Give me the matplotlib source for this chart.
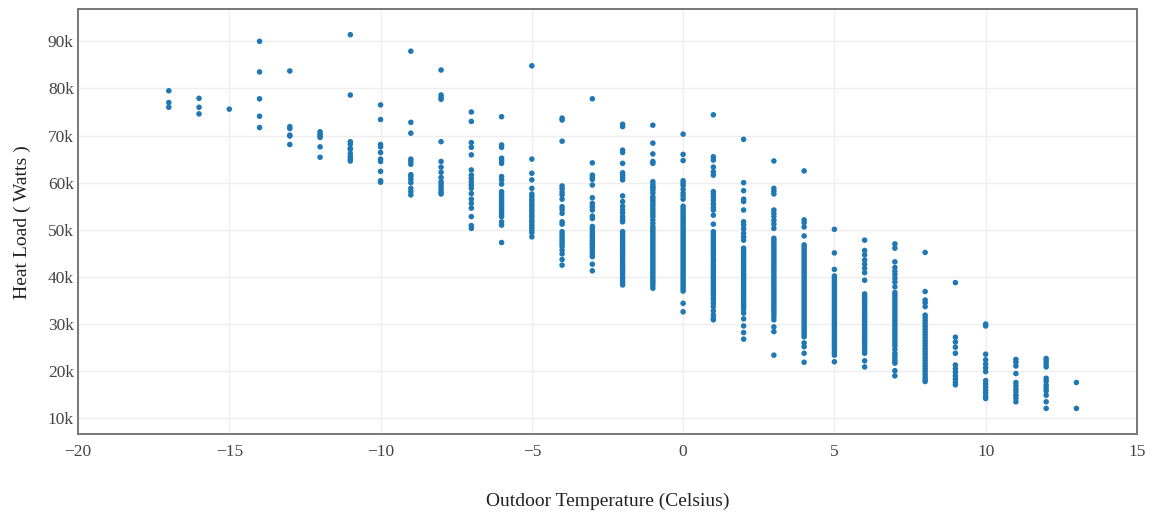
import numpy as np
import matplotlib.pyplot as plt
from matplotlib.ticker import FuncFormatter

# Heat load readings (kW) grouped by outdoor temperature (°C)
load_m17 = [79.5, 77.0, 76.0]
load_m16 = [77.9, 76.0, 74.6]
load_m15 = [75.6]
load_m14 = [90.0, 83.5, 77.8, 74.1, 71.7]
load_m13 = [83.7, 71.9, 71.5, 70.1, 69.9, 68.1]
load_m12 = [70.8, 70.3, 69.9, 69.6, 67.6, 65.4]
load_m11 = [91.4, 78.6, 68.7, 68.2, 67.3, 67.1, 66.2, 65.5, 65.0, 64.6]
load_m10 = [76.5, 73.4, 68.1, 67.6, 66.4, 65.0, 64.5, 62.4, 60.4, 60.1]
load_m9 = [87.9, 72.8, 70.5, 65.0, 64.5, 63.9, 61.7, 61.3, 60.7, 60.0, 58.8, 58.1, 57.4]
load_m8 = [83.9, 78.6, 78.1, 77.7, 68.7, 64.5, 63.3, 62.2, 61.1, 60.2, 59.7, 59.1,
           58.6, 58.0, 57.6]
load_m7 = [75.0, 73.0, 68.5, 67.5, 65.9, 62.7, 61.6, 60.9, 60.2, 59.5, 58.8, 57.7,
           56.5, 55.6, 54.6, 52.8, 50.9, 50.3]
load_m6 = [74.0, 68.0, 67.5, 65.2, 64.7, 64.1, 61.3, 60.6, 59.7, 58.1, 57.6, 57.0,
           56.5, 56.0, 55.5, 54.9, 54.4, 53.9, 53.4, 52.8, 51.7, 51.0, 47.3]
load_m5 = [84.8, 65.0, 62.0, 60.6, 58.8, 57.6, 57.1, 56.5, 56.0, 55.4, 54.9, 54.3,
           53.8, 53.2, 52.7, 52.1, 51.6, 51.0, 50.5, 49.9, 49.4, 48.5]
load_m4 = [73.7, 73.3, 68.8, 59.3, 58.7, 58.0, 57.4, 56.5, 54.9, 54.3, 53.5, 51.7,
           51.2, 49.6, 49.1, 48.6, 48.0, 47.5, 47.0, 46.5, 45.7, 44.9, 43.7, 42.5]
load_m3 = [77.8, 64.2, 61.6, 61.1, 60.7, 59.5, 56.8, 55.6, 54.9, 54.2, 52.9, 52.4,
           50.7, 50.2, 49.6, 49.1, 48.7, 48.2, 47.7, 47.2, 46.8, 46.3, 45.8, 45.3,
           44.8, 44.3, 42.7, 41.3]
load_m2 = [72.4, 71.9, 66.9, 66.4, 64.1, 62.1, 61.6, 61.1, 60.6, 57.2, 56.0, 55.0,
           54.2, 53.6, 52.8, 52.2, 51.7, 49.6, 49.1, 48.6, 48.1, 47.6, 47.1, 46.6,
           46.1, 45.6, 45.1, 44.6, 44.1, 43.6, 43.1, 42.6, 42.1, 41.6, 41.1, 40.6,
           40.0, 39.4, 38.8, 38.3]
load_m1 = [72.2, 68.4, 66.1, 64.5, 64.1, 60.2, 59.6, 59.1, 58.9, 58.4, 57.8, 57.0,
           56.5, 56.0, 55.5, 55.0, 54.4, 53.9, 53.3, 52.8, 52.1, 51.4, 50.7, 50.2,
           49.7, 49.2, 48.7, 48.2, 47.7, 47.2, 46.7, 46.2, 45.7, 45.2, 44.7, 44.2,
           43.7, 43.2, 42.7, 42.2, 41.7, 41.2, 40.7, 40.2, 39.7, 39.2, 38.7, 38.2,
           37.6]
load_0 = [70.3, 66.0, 64.7, 60.4, 59.9, 59.4, 58.6, 57.8, 57.2, 56.5, 55.0, 54.5,
          54.0, 53.5, 53.0, 52.5, 52.0, 51.5, 51.0, 50.5, 50.0, 49.5, 49.0, 48.5,
          48.0, 47.5, 47.0, 46.5, 46.0, 45.5, 45.0, 44.5, 44.0, 43.5, 43.0, 42.5,
          42.0, 41.5, 41.0, 40.5, 40.0, 39.5, 39.0, 38.5, 38.0, 37.5, 37.0, 34.4, 32.6]
load_p1 = [74.4, 65.5, 64.8, 63.3, 62.3, 61.6, 58.1, 57.6, 57.0, 56.3, 55.5, 54.8,
           54.2, 53.1, 51.2, 49.6, 49.1, 48.6, 48.1, 47.6, 47.1, 46.6, 46.1, 45.6,
           45.1, 44.6, 44.1, 43.6, 43.1, 42.6, 42.1, 41.6, 41.1, 40.6, 40.1, 39.6,
           39.1, 38.6, 38.1, 37.6, 37.1, 36.6, 36.1, 35.6, 35.1, 34.4, 33.7, 32.8,
           31.9, 31.2, 30.9]
load_p2 = [69.2, 60.0, 58.3, 56.5, 56.0, 54.2, 51.7, 51.0, 50.2, 49.3, 48.5, 47.8,
           46.1, 45.6, 45.1, 44.6, 44.1, 43.6, 43.1, 42.6, 42.1, 41.6, 41.1, 40.6,
           40.1, 39.6, 39.1, 38.6, 38.1, 37.6, 37.1, 36.6, 36.1, 35.6, 35.1, 34.6,
           34.1, 33.6, 33.0, 32.3, 31.1, 29.6, 28.2, 26.8]
load_p3 = [64.6, 58.8, 58.2, 57.6, 54.2, 53.5, 52.8, 52.0, 51.2, 50.3, 48.2, 47.7,
           47.2, 46.7, 46.2, 45.7, 45.2, 44.7, 44.2, 43.7, 43.2, 42.7, 42.2, 41.7,
           41.2, 40.7, 40.2, 39.7, 39.2, 38.7, 38.2, 37.7, 37.2, 36.7, 36.2, 35.7,
           35.2, 34.7, 34.2, 33.7, 33.2, 32.7, 32.2, 31.6, 30.9, 29.4, 28.4, 23.4]
load_p4 = [62.5, 52.1, 51.5, 50.6, 48.7, 46.8, 46.3, 45.8, 45.3, 44.8, 44.3, 43.8,
           43.3, 42.8, 42.3, 41.8, 41.3, 40.8, 40.3, 39.8, 39.3, 38.8, 38.3, 37.8,
           37.3, 36.8, 36.3, 35.8, 35.3, 34.8, 34.3, 33.8, 33.3, 32.8, 32.3, 31.8,
           31.3, 30.8, 30.3, 29.8, 29.3, 28.8, 28.3, 27.8, 27.3, 26.0, 25.2, 23.8,
           21.9]
load_p5 = [50.1, 45.1, 41.6, 40.2, 39.7, 39.2, 38.7, 38.2, 37.7, 37.2, 36.7, 36.2,
           35.7, 35.2, 34.7, 34.2, 33.7, 33.2, 32.7, 32.2, 31.7, 31.2, 30.7, 30.2,
           29.7, 29.2, 28.7, 28.2, 27.7, 27.2, 26.7, 26.2, 25.7, 25.2, 24.6, 24.0,
           23.4, 22.0]
load_p6 = [47.8, 45.6, 44.7, 43.6, 42.7, 41.8, 40.9, 39.3, 36.4, 35.9, 35.4, 34.9,
           34.4, 33.9, 33.4, 32.9, 32.4, 31.9, 31.4, 30.9, 30.4, 29.9, 29.4, 28.9,
           28.4, 27.9, 27.4, 26.9, 26.4, 25.9, 25.4, 24.9, 24.3, 23.8, 22.2, 20.9]
load_p7 = [47.0, 46.1, 43.2, 42.0, 41.2, 40.5, 39.7, 38.9, 37.9, 36.7, 36.1, 35.5,
           34.9, 34.3, 33.7, 33.1, 32.5, 31.9, 31.3, 30.7, 30.1, 29.5, 28.9, 28.3,
           27.7, 27.1, 26.5, 25.9, 25.3, 24.6, 23.8, 23.4, 22.8, 22.2, 21.7, 20.1,
           19.0]
load_p8 = [45.2, 36.9, 35.1, 34.5, 33.7, 31.9, 31.3, 30.7, 30.1, 29.5, 28.9, 28.3,
           27.7, 27.1, 26.5, 25.9, 25.3, 24.7, 24.1, 23.5, 22.9, 22.3, 21.7, 21.1,
           20.5, 19.9, 19.3, 18.7, 18.2, 17.8]
load_p9 = [38.8, 27.2, 26.2, 25.1, 23.8, 21.3, 20.5, 19.8, 19.0, 18.3, 17.6, 17.1]
load_p10 = [30.0, 29.6, 23.6, 22.4, 21.5, 20.7, 19.9, 18.0, 17.3, 16.6, 16.0, 15.4,
            14.7, 14.2]
load_p11 = [22.5, 21.9, 21.1, 19.5, 17.6, 16.9, 16.2, 15.6, 14.9, 14.3, 13.5]
load_p12 = [22.7, 22.2, 21.5, 20.9, 18.5, 17.9, 17.1, 16.4, 15.8, 14.9, 13.5, 12.1]
load_p13 = [17.6, 12.1]

temps = list(range(-17, 14))
loads = [load_m17, load_m16, load_m15, load_m14, load_m13, load_m12, load_m11,
         load_m10, load_m9, load_m8, load_m7, load_m6, load_m5, load_m4, load_m3,
         load_m2, load_m1, load_0, load_p1, load_p2, load_p3, load_p4, load_p5,
         load_p6, load_p7, load_p8, load_p9, load_p10, load_p11, load_p12, load_p13]

x = np.concatenate([[t] * len(v) for t, v in zip(temps, loads)])
y = np.concatenate(loads) * 1000

plt.rcParams['font.family'] = ['Liberation Serif', 'DejaVu Serif']

fig = plt.figure(figsize=(11.56, 5.13), dpi=100)
ax = fig.add_axes([0.0675, 0.154, 0.916, 0.8275])

ax.scatter(x, y, s=16, color='#1f77b4', edgecolors='none', zorder=3)

ax.set_xlim(-20, 15)
ax.set_ylim(6670, 96750)
ax.set_xticks(range(-20, 16, 5))
ax.set_yticks(range(10000, 90001, 10000))
ax.yaxis.set_major_formatter(FuncFormatter(lambda v, _: f"{int(v / 1000)}k"))

ax.grid(True, color='#eeeeee', linewidth=1.0, zorder=0)
ax.tick_params(length=0, labelsize=12.5, colors='#444444')
ax.tick_params(axis='x', pad=7)
ax.tick_params(axis='y', pad=3)
for sp in ax.spines.values():
    sp.set_color('#777777')
    sp.set_linewidth(1.4)

ax.set_xlabel('Outdoor Temperature (Celsius)', fontsize=14, color='#222222', labelpad=24)
ax.set_ylabel('Heat Load ( Watts )', fontsize=14, color='#222222', labelpad=12)

fig.savefig('out.png', dpi=100)
